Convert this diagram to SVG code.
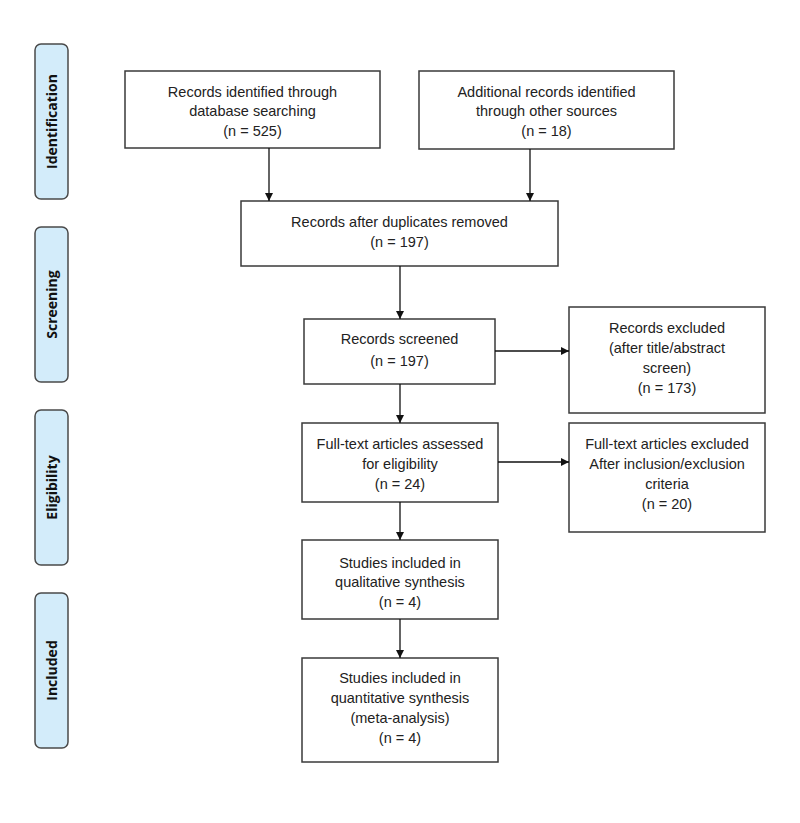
<svg xmlns="http://www.w3.org/2000/svg" width="800" height="823" viewBox="0 0 800 823">
<style>
.box{fill:#fff;stroke:#3a3a3a;stroke-width:1.5}
.side{fill:#d3ecfa;stroke:#4a4a4a;stroke-width:1.5}
.t{font-family:"Liberation Sans",Arial,sans-serif;font-size:14.5px;fill:#222;text-anchor:middle}
.s{font-family:"Open Sans","Liberation Sans",sans-serif;font-size:14px;font-weight:bold;fill:#111;text-anchor:middle}
.c{stroke:#111;stroke-width:1.3;fill:none;marker-end:url(#ah)}
</style>
<defs>
<marker id="ah" markerWidth="8" markerHeight="8" refX="8" refY="4" orient="auto" markerUnits="userSpaceOnUse">
<path d="M0,0 L8,4 L0,8 Z" fill="#111"/>
</marker>
</defs>
<rect width="800" height="823" fill="#fff"/>
<g id="side-identification"><rect class="side" x="35" y="44" width="33" height="155" rx="6"/><text class="s" transform="translate(56.5,121.5) rotate(-90)">Identification</text></g>
<g id="side-screening"><rect class="side" x="35" y="227" width="33" height="155" rx="6"/><text class="s" transform="translate(56.5,304.5) rotate(-90)">Screening</text></g>
<g id="side-eligibility"><rect class="side" x="35" y="410" width="33" height="155" rx="6"/><text class="s" transform="translate(56.5,487.5) rotate(-90)">Eligibility</text></g>
<g id="side-included"><rect class="side" x="35" y="593" width="33" height="155" rx="6"/><text class="s" transform="translate(56.5,670.5) rotate(-90)">Included</text></g>

<g id="n1"><rect class="box" x="125" y="71" width="255" height="77"/>
<text class="t" x="252.5" y="97">Records identified through</text><text class="t" x="252.5" y="116">database searching</text><text class="t" x="252.5" y="136">(n = 525)</text></g>
<g id="n2"><rect class="box" x="419" y="71" width="255" height="78"/>
<text class="t" x="546.5" y="97">Additional records identified</text><text class="t" x="546.5" y="116">through other sources</text><text class="t" x="546.5" y="136">(n = 18)</text></g>
<g id="n3"><rect class="box" x="241" y="201" width="317" height="65"/>
<text class="t" x="399.5" y="227">Records after duplicates removed</text><text class="t" x="399.5" y="247">(n = 197)</text></g>
<g id="n4"><rect class="box" x="304" y="319" width="191" height="65"/>
<text class="t" x="399.5" y="344">Records screened</text><text class="t" x="399.5" y="366">(n = 197)</text></g>
<g id="n5"><rect class="box" x="569" y="307" width="196" height="106"/>
<text class="t" x="667" y="333">Records excluded</text><text class="t" x="667" y="353">(after title/abstract</text><text class="t" x="667" y="373">screen)</text><text class="t" x="667" y="393">(n = 173)</text></g>
<g id="n6"><rect class="box" x="302" y="423" width="196" height="79"/>
<text class="t" x="400" y="449">Full-text articles assessed</text><text class="t" x="400" y="469">for eligibility</text><text class="t" x="400" y="489">(n = 24)</text></g>
<g id="n7"><rect class="box" x="569" y="423" width="196" height="109"/>
<text class="t" x="667" y="449">Full-text articles excluded</text><text class="t" x="667" y="469">After inclusion/exclusion</text><text class="t" x="667" y="489">criteria</text><text class="t" x="667" y="509">(n = 20)</text></g>
<g id="n8"><rect class="box" x="302" y="540" width="196" height="79"/>
<text class="t" x="400" y="568">Studies included in</text><text class="t" x="400" y="587">qualitative synthesis</text><text class="t" x="400" y="607">(n = 4)</text></g>
<g id="n9"><rect class="box" x="302" y="658" width="196" height="104"/>
<text class="t" x="400" y="683">Studies included in</text><text class="t" x="400" y="703">quantitative synthesis</text><text class="t" x="400" y="723">(meta-analysis)</text><text class="t" x="400" y="743">(n = 4)</text></g>

<g id="connectors">
<line class="c" x1="269" y1="148" x2="269" y2="201"/>
<line class="c" x1="530" y1="149" x2="530" y2="201"/>
<line class="c" x1="400" y1="266" x2="400" y2="319"/>
<line class="c" x1="400" y1="384" x2="400" y2="423"/>
<line class="c" x1="400" y1="502" x2="400" y2="540"/>
<line class="c" x1="400" y1="619" x2="400" y2="658"/>
<line class="c" x1="495" y1="351" x2="569" y2="351"/>
<line class="c" x1="498" y1="462" x2="569" y2="462"/>
</g>
</svg>
